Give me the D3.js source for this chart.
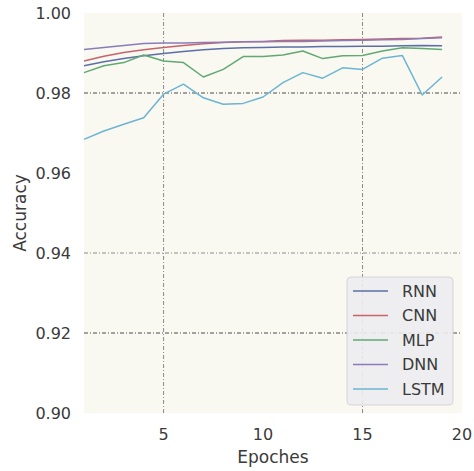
<!DOCTYPE html>
<html>
<head>
<meta charset="utf-8">
<script src="https://cdn.jsdelivr.net/npm/d3@7"></script>
<style>
  body { margin: 0; background: #fff; }
  text { font-family: "DejaVu Sans", sans-serif; fill: #3a3a3a; }
</style>
</head>
<body>
<script>
"use strict";

const epochs = [1, 2, 3, 4, 5, 6, 7, 8, 9, 10, 11, 12, 13, 14, 15, 16, 17, 18, 19];
const rnn  = [0.9868, 0.9878, 0.9886, 0.9893, 0.9899, 0.9904, 0.9908, 0.9911, 0.9913, 0.9914,
              0.9915, 0.9915, 0.9916, 0.9916, 0.9917, 0.9917, 0.9918, 0.9919, 0.9918];
const cnn  = [0.9880, 0.9892, 0.9901, 0.9908, 0.9914, 0.9919, 0.9923, 0.9926, 0.9928, 0.9929,
              0.9931, 0.9932, 0.9932, 0.9933, 0.9934, 0.9935, 0.9936, 0.9937, 0.9940];
const mlp  = [0.9851, 0.9868, 0.9876, 0.9895, 0.9880, 0.9876, 0.9840, 0.9859, 0.9891, 0.9891,
              0.9895, 0.9905, 0.9886, 0.9893, 0.9894, 0.9905, 0.9913, 0.9911, 0.9909];
const dnn  = [0.9909, 0.9914, 0.9919, 0.9924, 0.9925, 0.9925, 0.9926, 0.9927, 0.9928, 0.9928,
              0.9929, 0.9929, 0.9930, 0.9931, 0.9932, 0.9933, 0.9934, 0.9936, 0.9938];
const lstm = [0.9684, 0.9705, 0.9722, 0.9738, 0.9797, 0.9822, 0.9788, 0.9772, 0.9774, 0.9790,
              0.9826, 0.9851, 0.9837, 0.9863, 0.9859, 0.9887, 0.9894, 0.9795, 0.9840];

const names  = ["RNN", "CNN", "MLP", "DNN", "LSTM"];
const colors = ["#5b6fa6", "#c8636a", "#62a872", "#8a7cb8", "#6cb4d2"];
const xTicks = [5, 10, 15, 20];
const yTicks = [0.90, 0.92, 0.94, 0.96, 0.98, 1.00];
const xGrid  = [5, 15];
const yGrid  = [0.92, 0.94, 0.98];

const series = [rnn, cnn, mlp, dnn, lstm];

const W = 474, H = 471;
const pLeft = 84, pRight = 462, pTop = 13, pBottom = 413;

const x = d3.scaleLinear().domain([1, 20]).range([pLeft, pRight]);
const y = d3.scaleLinear().domain([0.90, 1.00]).range([pBottom, pTop]);

const svg = d3.select("body").append("svg")
    .attr("width", W).attr("height", H);

svg.append("rect")
    .attr("x", pLeft).attr("y", pTop)
    .attr("width", pRight - pLeft).attr("height", pBottom - pTop)
    .attr("fill", "#f9f9f2");

// grid lines
svg.append("g").selectAll("line")
    .data(xGrid)
    .enter()
    .append("line")
    .attr("x1", d => x(d)).attr("x2", d => x(d))
    .attr("y1", pTop).attr("y2", pBottom)
    .attr("stroke", "#8a8a8a")
    .attr("stroke-width", 1)
    .attr("stroke-dasharray", "4,2,1,2");

svg.append("g").selectAll("line")
    .data(yGrid)
    .enter()
    .append("line")
    .attr("x1", pLeft).attr("x2", pRight)
    .attr("y1", d => y(d)).attr("y2", d => y(d))
    .attr("stroke", d => d == 0.94 ? "#8a8a8a" : "#4a4a4a")
    .attr("stroke-width", 1)
    .attr("stroke-dasharray", "4,2,1,2");

// tick labels
svg.append("g").selectAll("text")
    .data(yTicks)
    .enter()
    .append("text")
    .attr("x", 71)
    .attr("y", d => y(d))
    .attr("dy", "0.36em")
    .attr("text-anchor", "end")
    .attr("font-size", 16)
    .text(d3.format(".2f"));

svg.append("g").selectAll("text")
    .data(xTicks)
    .enter()
    .append("text")
    .attr("x", d => x(d))
    .attr("y", 440)
    .attr("text-anchor", "middle")
    .attr("font-size", 16)
    .text(d => d);

svg.append("text")
    .attr("x", (pLeft + pRight) / 2)
    .attr("y", 463)
    .attr("text-anchor", "middle")
    .attr("font-size", 17)
    .text("Epoches");

svg.append("text")
    .attr("transform", `translate(26, ${(pTop + pBottom) / 2}) rotate(-90)`)
    .attr("text-anchor", "middle")
    .attr("font-size", 17)
    .text("Accuracy");

// lines
const line = d3.line()
    .x((d, i) => x(epochs[i]))
    .y(d => y(d));

svg.append("g").selectAll("path")
    .data(series)
    .enter()
    .append("path")
    .attr("d", line)
    .attr("fill", "none")
    .attr("stroke", (d, i) => colors[i])
    .attr("stroke-width", 1.5)
    .attr("stroke-linejoin", "round");

// legend
const legend = svg.append("g");

legend.append("rect")
    .attr("x", 347).attr("y", 277)
    .attr("width", 106).attr("height", 128)
    .attr("rx", 4)
    .attr("fill", "#ececf0")
    .attr("fill-opacity", 0.9)
    .attr("stroke", "#d4d4da");

const rows = legend.selectAll("g")
    .data(names)
    .enter()
    .append("g")
    .attr("transform", (d, i) => `translate(0, ${291 + i * 24.5})`);

rows.append("line")
    .attr("x1", 353).attr("x2", 388)
    .attr("stroke", (d, i) => colors[i])
    .attr("stroke-width", 1.5);

rows.append("text")
    .attr("x", 402)
    .attr("dy", "0.36em")
    .attr("font-size", 16)
    .text(d => d);
</script>
</body>
</html>
